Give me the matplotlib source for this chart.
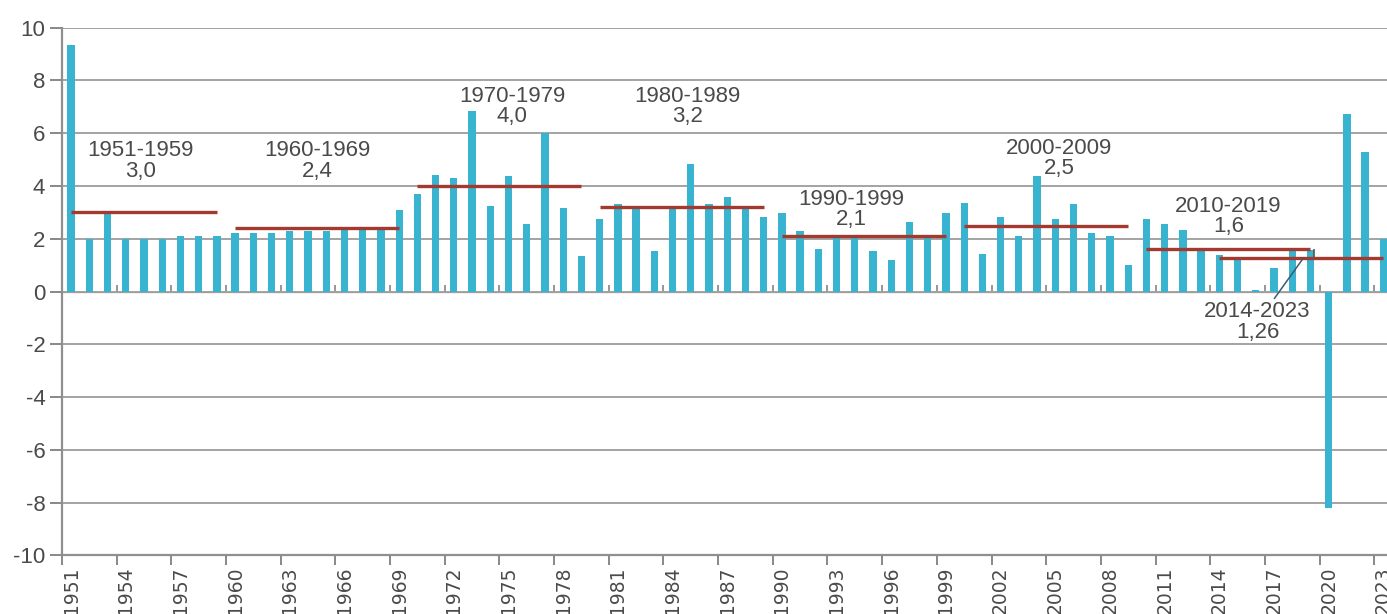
import matplotlib
matplotlib.use('Agg')
import matplotlib.pyplot as plt
import numpy as np

plt.rcParams['font.family'] = ['Liberation Sans', 'DejaVu Sans']
plt.rcParams['axes.unicode_minus'] = False

years = list(range(1951, 2024))
growth = [
    9.34, 2.0, 3.0, 2.0, 2.0, 2.0, 2.1, 2.1, 2.1,            # 1951-1959
    2.2, 2.2, 2.2, 2.3, 2.3, 2.3, 2.35, 2.4, 2.4, 3.1,       # 1960-1969
    3.7, 4.4, 4.3, 6.84, 3.24, 4.38, 2.56, 6.0, 3.16, 1.35,  # 1970-1979
    2.74, 3.32, 3.19, 1.52, 3.16, 4.82, 3.32, 3.6, 3.16, 2.82,  # 1980-1989
    2.97, 2.31, 1.6, 2.02, 2.1, 1.52, 1.2, 2.65, 2.08, 2.99,    # 1990-1999
    3.35, 1.43, 2.82, 2.11, 4.36, 2.74, 3.32, 2.2, 2.11, 1.01,  # 2000-2009
    2.74, 2.56, 2.34, 1.64, 1.39, 1.3, 0.05, 0.91, 1.64, 1.58,  # 2010-2019
    -8.2, 6.72, 5.3, 2.0,                                        # 2020-2023
]

period_start = [1951, 1960, 1970, 1980, 1990, 2000, 2010, 2014]
period_end = [1959, 1969, 1979, 1989, 1999, 2009, 2019, 2023]
period_mean = [3.0, 2.4, 4.0, 3.2, 2.1, 2.5, 1.6, 1.26]
period_label = ['3,0', '2,4', '4,0', '3,2', '2,1', '2,5', '1,6', '1,26']

# label placement (layout only)
label_x = [1954.8, 1964.5, 1975.2, 1984.8, 1993.8, 2005.2, 2014.5, 2016.1]
label_y = [4.95, 4.95, 7.0, 7.0, 3.1, 5.05, 2.85, -1.15]

bar_color = '#38b4d0'
line_color = '#a23a2f'
grid_color = '#a3a3a3'
text_color = '#4a4a4a'

fig = plt.figure(figsize=(13.87, 6.14), dpi=100)
ax = fig.add_axes([0.0447, 0.0953, 0.9553, 0.8597])

x = np.arange(len(years))
ax.bar(x, growth, width=0.4, color=bar_color, zorder=3)

idx = {y: i for i, y in enumerate(years)}
for s, e, m in zip(period_start, period_end, period_mean):
    ax.hlines(m, idx[s], idx[e], color=line_color, lw=2.4, zorder=4)
# small hook linking the 2010-2019 line to the 2014-2023 line
ax.vlines(idx[2019] + 0.2, period_mean[7], period_mean[6], color='#555555', lw=1.2, zorder=4)

for i in range(7):
    ax.text(label_x[i] - 1951, label_y[i],
            f'{period_start[i]}-{period_end[i]}\n{period_label[i]}',
            ha='center', va='center', fontsize=16, color=text_color,
            linespacing=0.95, zorder=5)
ax.annotate(f'{period_start[7]}-{period_end[7]}\n{period_label[7]}',
            xy=(idx[2018] + 0.6, period_mean[7]),
            xytext=(label_x[7] - 1951, label_y[7]),
            ha='center', va='center', fontsize=16, color=text_color,
            linespacing=0.95, zorder=5,
            arrowprops=dict(arrowstyle='-', color='#3d5a70', lw=1.1,
                            shrinkA=0, shrinkB=0))

ax.set_xlim(-0.5, 72.2)
ax.set_ylim(-10, 10)
ax.set_yticks(np.arange(-10, 11, 2))
ax.yaxis.grid(True, color=grid_color, lw=1.4, zorder=0)
ax.set_axisbelow(True)

label_idx = [idx[y] for y in years[::3]]
ax.set_xticks(label_idx)
ax.set_xticklabels([str(y) for y in years[::3]], rotation=90,
                   family=['DejaVu Sans'], fontsize=13.5, color=text_color)
ax.set_xticks(np.arange(-0.5, len(years), 3), minor=True)
ax.tick_params(axis='x', which='major', length=0, pad=8)
ax.tick_params(axis='x', which='minor', length=7, width=1.4, color='#888888',
               direction='out')
ax.tick_params(axis='y', length=9, width=1.4, color='#888888',
               labelsize=16, labelcolor=text_color, pad=3)

for side in ['top', 'right']:
    ax.spines[side].set_visible(False)
for side in ['left', 'bottom']:
    ax.spines[side].set_color('#8f8f8f')
    ax.spines[side].set_linewidth(1.6)

# category axis drawn at zero with its own tick marks
zero_ax = ax.secondary_xaxis(0.5)
zero_ax.set_xticks(np.arange(-0.5, len(years), 3))
zero_ax.set_xticklabels([])
zero_ax.tick_params(length=5, width=1.3, color='#8f8f8f', direction='out')
zero_ax.spines['bottom'].set_color('#6f6f6f')
zero_ax.spines['bottom'].set_linewidth(1.6)

fig.savefig('out.png', dpi=100)
